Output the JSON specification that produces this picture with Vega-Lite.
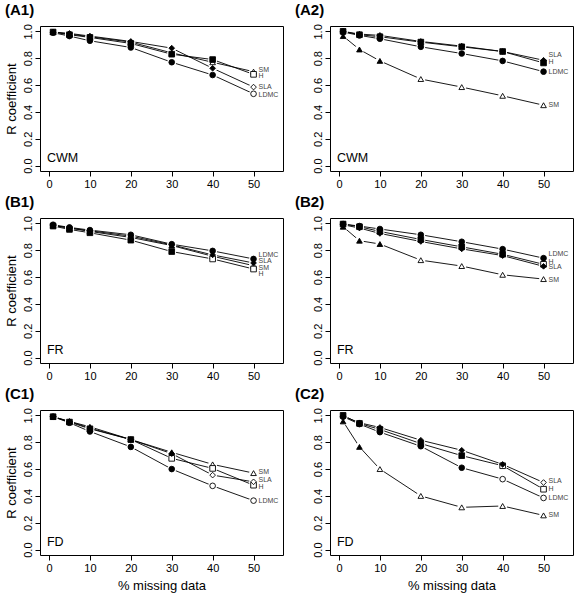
{
  "$schema": "https://vega.github.io/schema/vega-lite/v6.json",
  "padding": {"left": 4, "top": 2, "right": 0, "bottom": 0},
  "background": "white",
  "spacing": 4,
  "datasets": {
    "pts": [
      {"p":"A1","s":"SM","x":1,"y":0.995,"f":"y"},{"p":"A1","s":"SM","x":5,"y":0.98,"f":"y"},{"p":"A1","s":"SM","x":10,"y":0.96,"f":"y"},{"p":"A1","s":"SM","x":20,"y":0.92,"f":"y"},{"p":"A1","s":"SM","x":30,"y":0.84,"f":"y"},{"p":"A1","s":"SM","x":40,"y":0.77,"f":"n"},{"p":"A1","s":"SM","x":50,"y":0.70,"f":"n"},
      {"p":"A1","s":"H","x":1,"y":0.995,"f":"y"},{"p":"A1","s":"H","x":5,"y":0.975,"f":"y"},{"p":"A1","s":"H","x":10,"y":0.955,"f":"y"},{"p":"A1","s":"H","x":20,"y":0.91,"f":"y"},{"p":"A1","s":"H","x":30,"y":0.83,"f":"y"},{"p":"A1","s":"H","x":40,"y":0.79,"f":"y"},{"p":"A1","s":"H","x":50,"y":0.68,"f":"n"},
      {"p":"A1","s":"SLA","x":1,"y":0.995,"f":"y"},{"p":"A1","s":"SLA","x":5,"y":0.985,"f":"y"},{"p":"A1","s":"SLA","x":10,"y":0.965,"f":"y"},{"p":"A1","s":"SLA","x":20,"y":0.925,"f":"y"},{"p":"A1","s":"SLA","x":30,"y":0.875,"f":"y"},{"p":"A1","s":"SLA","x":40,"y":0.725,"f":"y"},{"p":"A1","s":"SLA","x":50,"y":0.585,"f":"n"},
      {"p":"A1","s":"LDMC","x":1,"y":0.99,"f":"y"},{"p":"A1","s":"LDMC","x":5,"y":0.965,"f":"y"},{"p":"A1","s":"LDMC","x":10,"y":0.93,"f":"y"},{"p":"A1","s":"LDMC","x":20,"y":0.88,"f":"y"},{"p":"A1","s":"LDMC","x":30,"y":0.77,"f":"y"},{"p":"A1","s":"LDMC","x":40,"y":0.675,"f":"y"},{"p":"A1","s":"LDMC","x":50,"y":0.535,"f":"n"},

      {"p":"A2","s":"SM","x":1,"y":0.965,"f":"y"},{"p":"A2","s":"SM","x":5,"y":0.865,"f":"y"},{"p":"A2","s":"SM","x":10,"y":0.78,"f":"y"},{"p":"A2","s":"SM","x":20,"y":0.645,"f":"n"},{"p":"A2","s":"SM","x":30,"y":0.585,"f":"n"},{"p":"A2","s":"SM","x":40,"y":0.52,"f":"n"},{"p":"A2","s":"SM","x":50,"y":0.45,"f":"n"},
      {"p":"A2","s":"H","x":1,"y":1.0,"f":"y"},{"p":"A2","s":"H","x":5,"y":0.975,"f":"y"},{"p":"A2","s":"H","x":10,"y":0.96,"f":"y"},{"p":"A2","s":"H","x":20,"y":0.92,"f":"y"},{"p":"A2","s":"H","x":30,"y":0.885,"f":"y"},{"p":"A2","s":"H","x":40,"y":0.85,"f":"y"},{"p":"A2","s":"H","x":50,"y":0.765,"f":"y"},
      {"p":"A2","s":"SLA","x":1,"y":1.0,"f":"y"},{"p":"A2","s":"SLA","x":5,"y":0.98,"f":"y"},{"p":"A2","s":"SLA","x":10,"y":0.97,"f":"y"},{"p":"A2","s":"SLA","x":20,"y":0.925,"f":"y"},{"p":"A2","s":"SLA","x":30,"y":0.89,"f":"y"},{"p":"A2","s":"SLA","x":40,"y":0.85,"f":"y"},{"p":"A2","s":"SLA","x":50,"y":0.785,"f":"y"},
      {"p":"A2","s":"LDMC","x":1,"y":0.995,"f":"y"},{"p":"A2","s":"LDMC","x":5,"y":0.97,"f":"y"},{"p":"A2","s":"LDMC","x":10,"y":0.945,"f":"y"},{"p":"A2","s":"LDMC","x":20,"y":0.885,"f":"y"},{"p":"A2","s":"LDMC","x":30,"y":0.835,"f":"y"},{"p":"A2","s":"LDMC","x":40,"y":0.78,"f":"y"},{"p":"A2","s":"LDMC","x":50,"y":0.70,"f":"y"},

      {"p":"B1","s":"SM","x":1,"y":0.985,"f":"y"},{"p":"B1","s":"SM","x":5,"y":0.965,"f":"y"},{"p":"B1","s":"SM","x":10,"y":0.94,"f":"y"},{"p":"B1","s":"SM","x":20,"y":0.895,"f":"y"},{"p":"B1","s":"SM","x":30,"y":0.835,"f":"y"},{"p":"B1","s":"SM","x":40,"y":0.755,"f":"y"},{"p":"B1","s":"SM","x":50,"y":0.685,"f":"n"},
      {"p":"B1","s":"H","x":1,"y":0.98,"f":"y"},{"p":"B1","s":"H","x":5,"y":0.955,"f":"y"},{"p":"B1","s":"H","x":10,"y":0.93,"f":"y"},{"p":"B1","s":"H","x":20,"y":0.875,"f":"y"},{"p":"B1","s":"H","x":30,"y":0.79,"f":"y"},{"p":"B1","s":"H","x":40,"y":0.735,"f":"n"},{"p":"B1","s":"H","x":50,"y":0.66,"f":"n"},
      {"p":"B1","s":"SLA","x":1,"y":0.985,"f":"y"},{"p":"B1","s":"SLA","x":5,"y":0.965,"f":"y"},{"p":"B1","s":"SLA","x":10,"y":0.945,"f":"y"},{"p":"B1","s":"SLA","x":20,"y":0.905,"f":"y"},{"p":"B1","s":"SLA","x":30,"y":0.84,"f":"y"},{"p":"B1","s":"SLA","x":40,"y":0.765,"f":"y"},{"p":"B1","s":"SLA","x":50,"y":0.705,"f":"y"},
      {"p":"B1","s":"LDMC","x":1,"y":0.99,"f":"y"},{"p":"B1","s":"LDMC","x":5,"y":0.97,"f":"y"},{"p":"B1","s":"LDMC","x":10,"y":0.95,"f":"y"},{"p":"B1","s":"LDMC","x":20,"y":0.915,"f":"y"},{"p":"B1","s":"LDMC","x":30,"y":0.845,"f":"y"},{"p":"B1","s":"LDMC","x":40,"y":0.795,"f":"y"},{"p":"B1","s":"LDMC","x":50,"y":0.735,"f":"y"},

      {"p":"B2","s":"SM","x":1,"y":0.975,"f":"y"},{"p":"B2","s":"SM","x":5,"y":0.871,"f":"y"},{"p":"B2","s":"SM","x":10,"y":0.846,"f":"y"},{"p":"B2","s":"SM","x":20,"y":0.726,"f":"n"},{"p":"B2","s":"SM","x":30,"y":0.682,"f":"n"},{"p":"B2","s":"SM","x":40,"y":0.617,"f":"n"},{"p":"B2","s":"SM","x":50,"y":0.585,"f":"n"},
      {"p":"B2","s":"H","x":1,"y":0.995,"f":"y"},{"p":"B2","s":"H","x":5,"y":0.975,"f":"y"},{"p":"B2","s":"H","x":10,"y":0.94,"f":"y"},{"p":"B2","s":"H","x":20,"y":0.88,"f":"y"},{"p":"B2","s":"H","x":30,"y":0.825,"f":"y"},{"p":"B2","s":"H","x":40,"y":0.77,"f":"y"},{"p":"B2","s":"H","x":50,"y":0.695,"f":"n"},
      {"p":"B2","s":"SLA","x":1,"y":0.99,"f":"y"},{"p":"B2","s":"SLA","x":5,"y":0.965,"f":"y"},{"p":"B2","s":"SLA","x":10,"y":0.925,"f":"y"},{"p":"B2","s":"SLA","x":20,"y":0.865,"f":"y"},{"p":"B2","s":"SLA","x":30,"y":0.81,"f":"y"},{"p":"B2","s":"SLA","x":40,"y":0.76,"f":"y"},{"p":"B2","s":"SLA","x":50,"y":0.68,"f":"y"},
      {"p":"B2","s":"LDMC","x":1,"y":0.995,"f":"y"},{"p":"B2","s":"LDMC","x":5,"y":0.98,"f":"y"},{"p":"B2","s":"LDMC","x":10,"y":0.958,"f":"y"},{"p":"B2","s":"LDMC","x":20,"y":0.915,"f":"y"},{"p":"B2","s":"LDMC","x":30,"y":0.863,"f":"y"},{"p":"B2","s":"LDMC","x":40,"y":0.808,"f":"y"},{"p":"B2","s":"LDMC","x":50,"y":0.741,"f":"y"},

      {"p":"C1","s":"SM","x":1,"y":0.99,"f":"y"},{"p":"C1","s":"SM","x":5,"y":0.955,"f":"y"},{"p":"C1","s":"SM","x":10,"y":0.915,"f":"y"},{"p":"C1","s":"SM","x":20,"y":0.82,"f":"y"},{"p":"C1","s":"SM","x":30,"y":0.725,"f":"y"},{"p":"C1","s":"SM","x":40,"y":0.635,"f":"n"},{"p":"C1","s":"SM","x":50,"y":0.57,"f":"n"},
      {"p":"C1","s":"H","x":1,"y":0.99,"f":"y"},{"p":"C1","s":"H","x":5,"y":0.95,"f":"y"},{"p":"C1","s":"H","x":10,"y":0.90,"f":"y"},{"p":"C1","s":"H","x":20,"y":0.82,"f":"y"},{"p":"C1","s":"H","x":30,"y":0.68,"f":"n"},{"p":"C1","s":"H","x":40,"y":0.605,"f":"n"},{"p":"C1","s":"H","x":50,"y":0.48,"f":"n"},
      {"p":"C1","s":"SLA","x":1,"y":0.99,"f":"y"},{"p":"C1","s":"SLA","x":5,"y":0.955,"f":"y"},{"p":"C1","s":"SLA","x":10,"y":0.905,"f":"y"},{"p":"C1","s":"SLA","x":20,"y":0.82,"f":"y"},{"p":"C1","s":"SLA","x":30,"y":0.715,"f":"y"},{"p":"C1","s":"SLA","x":40,"y":0.555,"f":"n"},{"p":"C1","s":"SLA","x":50,"y":0.505,"f":"n"},
      {"p":"C1","s":"LDMC","x":1,"y":0.99,"f":"y"},{"p":"C1","s":"LDMC","x":5,"y":0.945,"f":"y"},{"p":"C1","s":"LDMC","x":10,"y":0.88,"f":"y"},{"p":"C1","s":"LDMC","x":20,"y":0.765,"f":"y"},{"p":"C1","s":"LDMC","x":30,"y":0.60,"f":"y"},{"p":"C1","s":"LDMC","x":40,"y":0.475,"f":"n"},{"p":"C1","s":"LDMC","x":50,"y":0.365,"f":"n"},

      {"p":"C2","s":"SM","x":1,"y":0.955,"f":"y"},{"p":"C2","s":"SM","x":5,"y":0.765,"f":"y"},{"p":"C2","s":"SM","x":10,"y":0.60,"f":"n"},{"p":"C2","s":"SM","x":20,"y":0.40,"f":"n"},{"p":"C2","s":"SM","x":30,"y":0.315,"f":"n"},{"p":"C2","s":"SM","x":40,"y":0.325,"f":"n"},{"p":"C2","s":"SM","x":50,"y":0.255,"f":"n"},
      {"p":"C2","s":"H","x":1,"y":1.0,"f":"y"},{"p":"C2","s":"H","x":5,"y":0.94,"f":"y"},{"p":"C2","s":"H","x":10,"y":0.895,"f":"y"},{"p":"C2","s":"H","x":20,"y":0.79,"f":"y"},{"p":"C2","s":"H","x":30,"y":0.70,"f":"y"},{"p":"C2","s":"H","x":40,"y":0.625,"f":"n"},{"p":"C2","s":"H","x":50,"y":0.45,"f":"n"},
      {"p":"C2","s":"SLA","x":1,"y":0.995,"f":"y"},{"p":"C2","s":"SLA","x":5,"y":0.945,"f":"y"},{"p":"C2","s":"SLA","x":10,"y":0.91,"f":"y"},{"p":"C2","s":"SLA","x":20,"y":0.815,"f":"y"},{"p":"C2","s":"SLA","x":30,"y":0.74,"f":"y"},{"p":"C2","s":"SLA","x":40,"y":0.635,"f":"y"},{"p":"C2","s":"SLA","x":50,"y":0.50,"f":"n"},
      {"p":"C2","s":"LDMC","x":1,"y":0.99,"f":"y"},{"p":"C2","s":"LDMC","x":5,"y":0.935,"f":"y"},{"p":"C2","s":"LDMC","x":10,"y":0.875,"f":"y"},{"p":"C2","s":"LDMC","x":20,"y":0.77,"f":"y"},{"p":"C2","s":"LDMC","x":30,"y":0.61,"f":"y"},{"p":"C2","s":"LDMC","x":40,"y":0.525,"f":"n"},{"p":"C2","s":"LDMC","x":50,"y":0.385,"f":"n"}
    ],
    "labs": [
      {"p":"A1","s":"SM","x":50,"y":0.712},{"p":"A1","s":"H","x":50,"y":0.665},{"p":"A1","s":"SLA","x":50,"y":0.588},{"p":"A1","s":"LDMC","x":50,"y":0.528},
      {"p":"A2","s":"SLA","x":50,"y":0.825},{"p":"A2","s":"H","x":50,"y":0.77},{"p":"A2","s":"LDMC","x":50,"y":0.695},{"p":"A2","s":"SM","x":50,"y":0.45},
      {"p":"B1","s":"LDMC","x":50,"y":0.762},{"p":"B1","s":"SLA","x":50,"y":0.72},{"p":"B1","s":"SM","x":50,"y":0.667},{"p":"B1","s":"H","x":50,"y":0.62},
      {"p":"B2","s":"LDMC","x":50,"y":0.771},{"p":"B2","s":"H","x":50,"y":0.714},{"p":"B2","s":"SLA","x":50,"y":0.672},{"p":"B2","s":"SM","x":50,"y":0.58},
      {"p":"C1","s":"SM","x":50,"y":0.575},{"p":"C1","s":"SLA","x":50,"y":0.515},{"p":"C1","s":"H","x":50,"y":0.465},{"p":"C1","s":"LDMC","x":50,"y":0.365},
      {"p":"C2","s":"SLA","x":50,"y":0.51},{"p":"C2","s":"H","x":50,"y":0.45},{"p":"C2","s":"LDMC","x":50,"y":0.385},{"p":"C2","s":"SM","x":50,"y":0.255}
    ],
    "ann": [
      {"p":"A1","t":"CWM"},{"p":"A2","t":"CWM"},{"p":"B1","t":"FR"},{"p":"B2","t":"FR"},{"p":"C1","t":"FD"},{"p":"C2","t":"FD"}
    ]
  },
  "vconcat": [
    {"spacing": 10, "hconcat": [
      {"width": 243, "height": 145, "title": {"text": "(A1)"},
       "layer": [
         {"data": {"name": "pts"}, "transform": [{"filter": "datum.p == 'A1'"}], "mark": {"type": "line", "color": "black", "strokeWidth": 0.9},
          "encoding": {
            "x": {"field": "x", "type": "quantitative", "scale": {"domain": [-2.2, 57.2], "nice": false, "zero": false}, "axis": {"title": null}},
            "y": {"field": "y", "type": "quantitative", "scale": {"domain": [-0.04, 1.04], "nice": false, "zero": false}, "axis": {"title": "R coefficient"}},
            "detail": {"field": "s", "type": "nominal"}}},
         {"data": {"name": "pts"}, "transform": [{"filter": "datum.p == 'A1'"}], "mark": {"type": "point", "shape": "circle", "fill": "white", "stroke": null, "opacity": 1, "size": 80},
          "encoding": {"x": {"field": "x", "type": "quantitative"}, "y": {"field": "y", "type": "quantitative"}}},
         {"data": {"name": "pts"}, "transform": [{"filter": "datum.p == 'A1'"}], "mark": {"type": "point", "stroke": "black", "strokeWidth": 0.9, "opacity": 1, "size": 32},
          "encoding": {"x": {"field": "x", "type": "quantitative"}, "y": {"field": "y", "type": "quantitative"},
                       "shape": {"field": "s", "type": "nominal", "scale": {"domain": ["SM","H","SLA","LDMC"], "range": ["triangle-up","square","diamond","circle"]}, "legend": null},
                       "fill": {"field": "f", "type": "nominal", "scale": {"domain": ["y","n"], "range": ["black","white"]}, "legend": null}}},
         {"data": {"name": "labs"}, "transform": [{"filter": "datum.p == 'A1'"}], "mark": {"type": "text", "align": "left", "baseline": "middle", "dx": 5, "fontSize": 7, "fill": "#444"},
          "encoding": {"x": {"field": "x", "type": "quantitative"}, "y": {"field": "y", "type": "quantitative"}, "text": {"field": "s", "type": "nominal"}}},
         {"data": {"name": "ann"}, "transform": [{"filter": "datum.p == 'A1'"}], "mark": {"type": "text", "align": "left", "baseline": "alphabetic", "fontSize": 12.5, "fill": "black"},
          "encoding": {"x": {"datum": -0.5, "type": "quantitative"}, "y": {"datum": 0.025, "type": "quantitative"}, "text": {"field": "t", "type": "nominal"}}}
       ]},
      {"width": 243, "height": 145, "title": {"text": "(A2)"},
       "layer": [
         {"data": {"name": "pts"}, "transform": [{"filter": "datum.p == 'A2'"}], "mark": {"type": "line", "color": "black", "strokeWidth": 0.9},
          "encoding": {
            "x": {"field": "x", "type": "quantitative", "scale": {"domain": [-2.2, 57.2], "nice": false, "zero": false}, "axis": {"title": null}},
            "y": {"field": "y", "type": "quantitative", "scale": {"domain": [-0.04, 1.04], "nice": false, "zero": false}, "axis": {"title": " "}},
            "detail": {"field": "s", "type": "nominal"}}},
         {"data": {"name": "pts"}, "transform": [{"filter": "datum.p == 'A2'"}], "mark": {"type": "point", "shape": "circle", "fill": "white", "stroke": null, "opacity": 1, "size": 80},
          "encoding": {"x": {"field": "x", "type": "quantitative"}, "y": {"field": "y", "type": "quantitative"}}},
         {"data": {"name": "pts"}, "transform": [{"filter": "datum.p == 'A2'"}], "mark": {"type": "point", "stroke": "black", "strokeWidth": 0.9, "opacity": 1, "size": 32},
          "encoding": {"x": {"field": "x", "type": "quantitative"}, "y": {"field": "y", "type": "quantitative"},
                       "shape": {"field": "s", "type": "nominal", "scale": {"domain": ["SM","H","SLA","LDMC"], "range": ["triangle-up","square","diamond","circle"]}, "legend": null},
                       "fill": {"field": "f", "type": "nominal", "scale": {"domain": ["y","n"], "range": ["black","white"]}, "legend": null}}},
         {"data": {"name": "labs"}, "transform": [{"filter": "datum.p == 'A2'"}], "mark": {"type": "text", "align": "left", "baseline": "middle", "dx": 5, "fontSize": 7, "fill": "#444"},
          "encoding": {"x": {"field": "x", "type": "quantitative"}, "y": {"field": "y", "type": "quantitative"}, "text": {"field": "s", "type": "nominal"}}},
         {"data": {"name": "ann"}, "transform": [{"filter": "datum.p == 'A2'"}], "mark": {"type": "text", "align": "left", "baseline": "alphabetic", "fontSize": 12.5, "fill": "black"},
          "encoding": {"x": {"datum": -0.5, "type": "quantitative"}, "y": {"datum": 0.025, "type": "quantitative"}, "text": {"field": "t", "type": "nominal"}}}
       ]}
    ]},
    {"spacing": 10, "hconcat": [
      {"width": 243, "height": 145, "title": {"text": "(B1)"},
       "layer": [
         {"data": {"name": "pts"}, "transform": [{"filter": "datum.p == 'B1'"}], "mark": {"type": "line", "color": "black", "strokeWidth": 0.9},
          "encoding": {
            "x": {"field": "x", "type": "quantitative", "scale": {"domain": [-2.2, 57.2], "nice": false, "zero": false}, "axis": {"title": null}},
            "y": {"field": "y", "type": "quantitative", "scale": {"domain": [-0.04, 1.04], "nice": false, "zero": false}, "axis": {"title": "R coefficient"}},
            "detail": {"field": "s", "type": "nominal"}}},
         {"data": {"name": "pts"}, "transform": [{"filter": "datum.p == 'B1'"}], "mark": {"type": "point", "shape": "circle", "fill": "white", "stroke": null, "opacity": 1, "size": 80},
          "encoding": {"x": {"field": "x", "type": "quantitative"}, "y": {"field": "y", "type": "quantitative"}}},
         {"data": {"name": "pts"}, "transform": [{"filter": "datum.p == 'B1'"}], "mark": {"type": "point", "stroke": "black", "strokeWidth": 0.9, "opacity": 1, "size": 32},
          "encoding": {"x": {"field": "x", "type": "quantitative"}, "y": {"field": "y", "type": "quantitative"},
                       "shape": {"field": "s", "type": "nominal", "scale": {"domain": ["SM","H","SLA","LDMC"], "range": ["triangle-up","square","diamond","circle"]}, "legend": null},
                       "fill": {"field": "f", "type": "nominal", "scale": {"domain": ["y","n"], "range": ["black","white"]}, "legend": null}}},
         {"data": {"name": "labs"}, "transform": [{"filter": "datum.p == 'B1'"}], "mark": {"type": "text", "align": "left", "baseline": "middle", "dx": 5, "fontSize": 7, "fill": "#444"},
          "encoding": {"x": {"field": "x", "type": "quantitative"}, "y": {"field": "y", "type": "quantitative"}, "text": {"field": "s", "type": "nominal"}}},
         {"data": {"name": "ann"}, "transform": [{"filter": "datum.p == 'B1'"}], "mark": {"type": "text", "align": "left", "baseline": "alphabetic", "fontSize": 12.5, "fill": "black"},
          "encoding": {"x": {"datum": -0.5, "type": "quantitative"}, "y": {"datum": 0.025, "type": "quantitative"}, "text": {"field": "t", "type": "nominal"}}}
       ]},
      {"width": 243, "height": 145, "title": {"text": "(B2)"},
       "layer": [
         {"data": {"name": "pts"}, "transform": [{"filter": "datum.p == 'B2'"}], "mark": {"type": "line", "color": "black", "strokeWidth": 0.9},
          "encoding": {
            "x": {"field": "x", "type": "quantitative", "scale": {"domain": [-2.2, 57.2], "nice": false, "zero": false}, "axis": {"title": null}},
            "y": {"field": "y", "type": "quantitative", "scale": {"domain": [-0.04, 1.04], "nice": false, "zero": false}, "axis": {"title": " "}},
            "detail": {"field": "s", "type": "nominal"}}},
         {"data": {"name": "pts"}, "transform": [{"filter": "datum.p == 'B2'"}], "mark": {"type": "point", "shape": "circle", "fill": "white", "stroke": null, "opacity": 1, "size": 80},
          "encoding": {"x": {"field": "x", "type": "quantitative"}, "y": {"field": "y", "type": "quantitative"}}},
         {"data": {"name": "pts"}, "transform": [{"filter": "datum.p == 'B2'"}], "mark": {"type": "point", "stroke": "black", "strokeWidth": 0.9, "opacity": 1, "size": 32},
          "encoding": {"x": {"field": "x", "type": "quantitative"}, "y": {"field": "y", "type": "quantitative"},
                       "shape": {"field": "s", "type": "nominal", "scale": {"domain": ["SM","H","SLA","LDMC"], "range": ["triangle-up","square","diamond","circle"]}, "legend": null},
                       "fill": {"field": "f", "type": "nominal", "scale": {"domain": ["y","n"], "range": ["black","white"]}, "legend": null}}},
         {"data": {"name": "labs"}, "transform": [{"filter": "datum.p == 'B2'"}], "mark": {"type": "text", "align": "left", "baseline": "middle", "dx": 5, "fontSize": 7, "fill": "#444"},
          "encoding": {"x": {"field": "x", "type": "quantitative"}, "y": {"field": "y", "type": "quantitative"}, "text": {"field": "s", "type": "nominal"}}},
         {"data": {"name": "ann"}, "transform": [{"filter": "datum.p == 'B2'"}], "mark": {"type": "text", "align": "left", "baseline": "alphabetic", "fontSize": 12.5, "fill": "black"},
          "encoding": {"x": {"datum": -0.5, "type": "quantitative"}, "y": {"datum": 0.025, "type": "quantitative"}, "text": {"field": "t", "type": "nominal"}}}
       ]}
    ]},
    {"spacing": 10, "hconcat": [
      {"width": 243, "height": 145, "title": {"text": "(C1)"},
       "layer": [
         {"data": {"name": "pts"}, "transform": [{"filter": "datum.p == 'C1'"}], "mark": {"type": "line", "color": "black", "strokeWidth": 0.9},
          "encoding": {
            "x": {"field": "x", "type": "quantitative", "scale": {"domain": [-2.2, 57.2], "nice": false, "zero": false}, "axis": {"title": "% missing data", "titlePadding": 6}},
            "y": {"field": "y", "type": "quantitative", "scale": {"domain": [-0.04, 1.04], "nice": false, "zero": false}, "axis": {"title": "R coefficient"}},
            "detail": {"field": "s", "type": "nominal"}}},
         {"data": {"name": "pts"}, "transform": [{"filter": "datum.p == 'C1'"}], "mark": {"type": "point", "shape": "circle", "fill": "white", "stroke": null, "opacity": 1, "size": 80},
          "encoding": {"x": {"field": "x", "type": "quantitative"}, "y": {"field": "y", "type": "quantitative"}}},
         {"data": {"name": "pts"}, "transform": [{"filter": "datum.p == 'C1'"}], "mark": {"type": "point", "stroke": "black", "strokeWidth": 0.9, "opacity": 1, "size": 32},
          "encoding": {"x": {"field": "x", "type": "quantitative"}, "y": {"field": "y", "type": "quantitative"},
                       "shape": {"field": "s", "type": "nominal", "scale": {"domain": ["SM","H","SLA","LDMC"], "range": ["triangle-up","square","diamond","circle"]}, "legend": null},
                       "fill": {"field": "f", "type": "nominal", "scale": {"domain": ["y","n"], "range": ["black","white"]}, "legend": null}}},
         {"data": {"name": "labs"}, "transform": [{"filter": "datum.p == 'C1'"}], "mark": {"type": "text", "align": "left", "baseline": "middle", "dx": 5, "fontSize": 7, "fill": "#444"},
          "encoding": {"x": {"field": "x", "type": "quantitative"}, "y": {"field": "y", "type": "quantitative"}, "text": {"field": "s", "type": "nominal"}}},
         {"data": {"name": "ann"}, "transform": [{"filter": "datum.p == 'C1'"}], "mark": {"type": "text", "align": "left", "baseline": "alphabetic", "fontSize": 12.5, "fill": "black"},
          "encoding": {"x": {"datum": -0.5, "type": "quantitative"}, "y": {"datum": 0.025, "type": "quantitative"}, "text": {"field": "t", "type": "nominal"}}}
       ]},
      {"width": 243, "height": 145, "title": {"text": "(C2)"},
       "layer": [
         {"data": {"name": "pts"}, "transform": [{"filter": "datum.p == 'C2'"}], "mark": {"type": "line", "color": "black", "strokeWidth": 0.9},
          "encoding": {
            "x": {"field": "x", "type": "quantitative", "scale": {"domain": [-2.2, 57.2], "nice": false, "zero": false}, "axis": {"title": "% missing data", "titlePadding": 6}},
            "y": {"field": "y", "type": "quantitative", "scale": {"domain": [-0.04, 1.04], "nice": false, "zero": false}, "axis": {"title": " "}},
            "detail": {"field": "s", "type": "nominal"}}},
         {"data": {"name": "pts"}, "transform": [{"filter": "datum.p == 'C2'"}], "mark": {"type": "point", "shape": "circle", "fill": "white", "stroke": null, "opacity": 1, "size": 80},
          "encoding": {"x": {"field": "x", "type": "quantitative"}, "y": {"field": "y", "type": "quantitative"}}},
         {"data": {"name": "pts"}, "transform": [{"filter": "datum.p == 'C2'"}], "mark": {"type": "point", "stroke": "black", "strokeWidth": 0.9, "opacity": 1, "size": 32},
          "encoding": {"x": {"field": "x", "type": "quantitative"}, "y": {"field": "y", "type": "quantitative"},
                       "shape": {"field": "s", "type": "nominal", "scale": {"domain": ["SM","H","SLA","LDMC"], "range": ["triangle-up","square","diamond","circle"]}, "legend": null},
                       "fill": {"field": "f", "type": "nominal", "scale": {"domain": ["y","n"], "range": ["black","white"]}, "legend": null}}},
         {"data": {"name": "labs"}, "transform": [{"filter": "datum.p == 'C2'"}], "mark": {"type": "text", "align": "left", "baseline": "middle", "dx": 5, "fontSize": 7, "fill": "#444"},
          "encoding": {"x": {"field": "x", "type": "quantitative"}, "y": {"field": "y", "type": "quantitative"}, "text": {"field": "s", "type": "nominal"}}},
         {"data": {"name": "ann"}, "transform": [{"filter": "datum.p == 'C2'"}], "mark": {"type": "text", "align": "left", "baseline": "alphabetic", "fontSize": 12.5, "fill": "black"},
          "encoding": {"x": {"datum": -0.5, "type": "quantitative"}, "y": {"datum": 0.025, "type": "quantitative"}, "text": {"field": "t", "type": "nominal"}}}
       ]}
    ]}
  ],
  "config": {
    "font": "Liberation Sans",
    "view": {"stroke": "black", "strokeWidth": 1},
    "axis": {"domain": false, "grid": false, "tickColor": "black", "tickSize": 5, "labelFontSize": 11, "labelColor": "black", "labelPadding": 2, "labelOverlap": false, "titleFontSize": 13, "titleFontWeight": "normal", "titleColor": "black", "titlePadding": 4},
    "axisX": {"values": [0, 10, 20, 30, 40, 50]},
    "axisY": {"values": [0, 0.2, 0.4, 0.6, 0.8, 1], "format": ".1f", "labelAngle": -90, "labelAlign": "center", "labelBaseline": "bottom"},
    "title": {"fontSize": 15, "fontWeight": "bold", "anchor": "start", "frame": "bounds", "offset": 6, "color": "black"}
  }
}
